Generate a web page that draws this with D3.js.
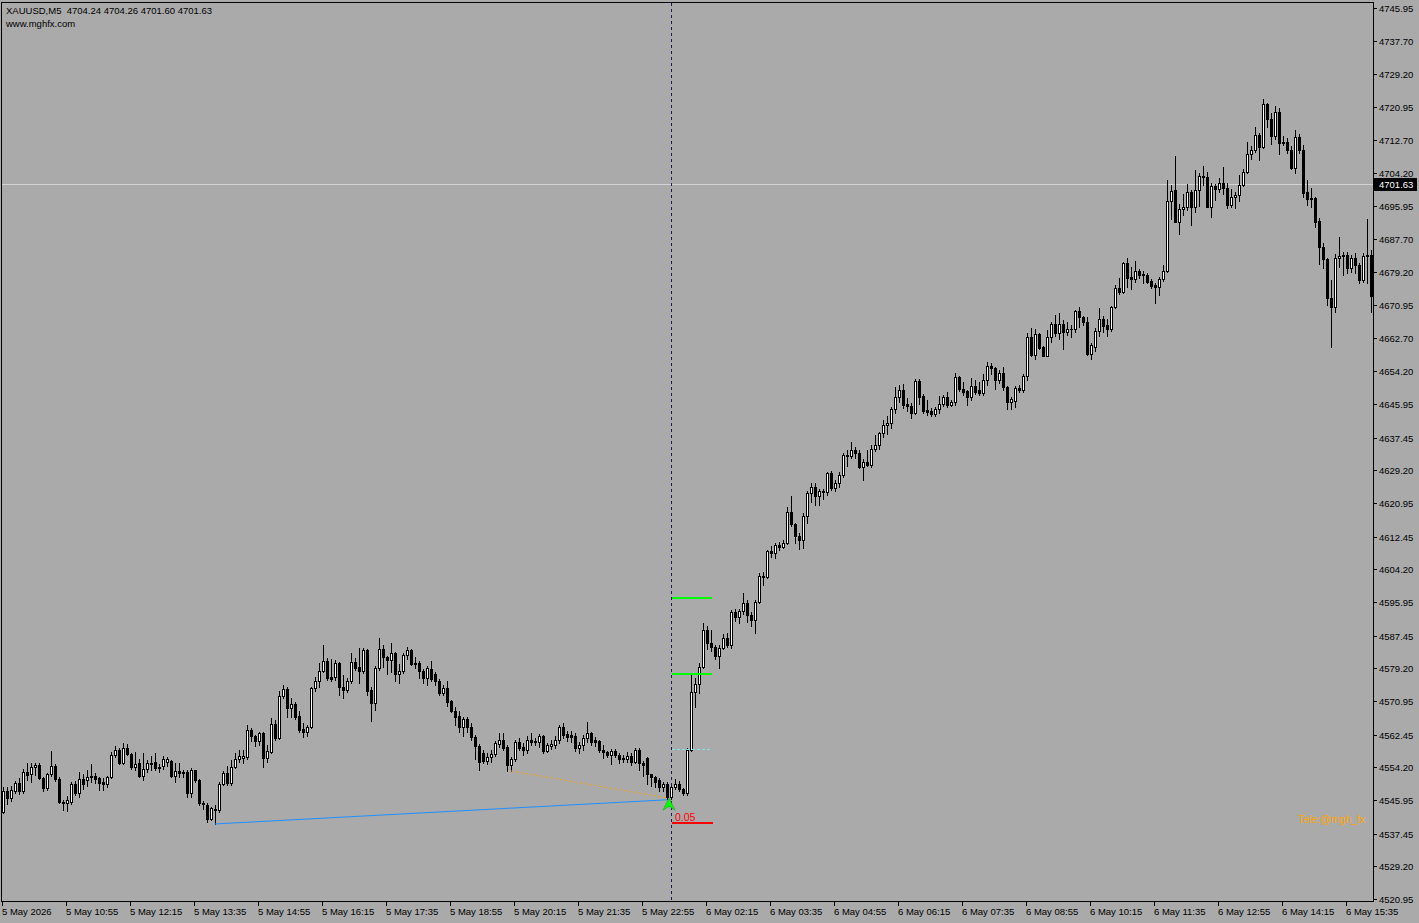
<!DOCTYPE html>
<html lang="en">
  <head>
    <meta charset="UTF-8" />
    <title>XAUUSD,M5</title>
    <script src="https://d3js.org/d3.v7.min.js"></script>
    <style>
      body {
        margin: 0;
        background: #aaaaaa;
        overflow: hidden;
      }
      svg text {
        font-family: "Liberation Sans", Arial, sans-serif;
        font-size: 9.5px;
        fill: #000;
      }
      .crisp {
        shape-rendering: crispEdges;
      }
    </style>
  </head>
  <body>
    <div id="chart"></div>

    <script>
      // OHLC of the visible M5 bars, left to right (bar 0 = 5 May 09:35)
      const opens = [
        4542.8, 4548.2, 4546.4, 4548.2, 4550.2, 4548.1, 4553.1, 4552.4, 4554.2, 4554.9,
        4551.4, 4548.9, 4552.4, 4554.5, 4551.2, 4545.5, 4545.2, 4545.5, 4550.0, 4547.8,
        4551.2, 4551.0, 4551.8, 4551.9, 4551.6, 4550.4, 4550.0, 4551.8, 4557.3, 4558.6,
        4555.2, 4559.2, 4557.6, 4554.2, 4555.2, 4552.1, 4553.7, 4555.0, 4555.6, 4554.3,
        4554.5, 4555.6, 4555.8, 4552.1, 4553.3, 4553.1, 4553.1, 4547.8, 4553.4, 4551.0,
        4545.3, 4544.7, 4541.1, 4543.8, 4543.3, 4550.0, 4552.8, 4550.2, 4554.2, 4556.2,
        4556.5, 4556.7, 4563.6, 4562.1, 4560.9, 4562.8, 4556.6, 4558.1, 4565.1, 4561.6,
        4572.1, 4573.9, 4569.3, 4570.2, 4567.2, 4563.9, 4563.0, 4564.5, 4574.2, 4576.1,
        4578.6, 4581.0, 4577.0, 4576.9, 4580.5, 4574.4, 4573.7, 4576.0, 4580.7, 4579.5,
        4578.6, 4583.8, 4573.7, 4570.4, 4579.3, 4584.0, 4582.0, 4581.2, 4583.0, 4577.7,
        4578.4, 4582.6, 4583.8, 4580.6, 4580.6, 4578.6, 4576.7, 4579.0, 4577.8, 4576.1,
        4572.9, 4574.2, 4570.9, 4568.5, 4567.2, 4564.3, 4566.3, 4564.5, 4561.8, 4559.6,
        4557.8, 4555.9, 4556.8, 4557.6, 4560.1, 4561.2, 4559.4, 4554.7, 4556.2, 4560.7,
        4559.4, 4558.6, 4561.2, 4560.8, 4560.5, 4562.1, 4558.4, 4559.6, 4559.8, 4561.1,
        4564.3, 4562.6, 4562.4, 4562.1, 4559.0, 4559.8, 4561.5, 4562.8, 4561.0, 4560.9,
        4558.6, 4558.1, 4557.2, 4558.4, 4557.4, 4556.6, 4556.4, 4557.0, 4555.6, 4558.7,
        4555.2, 4556.5, 4552.5, 4551.7, 4551.0, 4549.2, 4550.0, 4546.8, 4549.2, 4550.0,
        4548.7, 4547.6, 4558.6, 4573.3, 4575.2, 4579.6, 4588.8, 4585.7, 4584.5, 4582.2,
        4584.3, 4586.8, 4585.1, 4593.5, 4592.1, 4593.8, 4595.6, 4592.7, 4591.4, 4596.0,
        4602.5, 4602.2, 4608.8, 4608.2, 4610.3, 4609.9, 4610.8, 4618.8, 4615.6, 4612.6,
        4611.6, 4617.7, 4623.6, 4624.9, 4622.6, 4624.0, 4623.7, 4628.4, 4624.7, 4625.9,
        4628.0, 4633.1, 4632.8, 4634.3, 4633.5, 4630.0, 4631.4, 4630.6, 4634.7, 4635.6,
        4638.7, 4640.6, 4641.2, 4644.6, 4647.8, 4649.5, 4645.9, 4645.5, 4643.8, 4651.8,
        4648.0, 4644.4, 4644.2, 4643.4, 4644.6, 4646.0, 4647.6, 4645.7, 4646.5, 4652.7,
        4649.8, 4649.3, 4647.8, 4650.5, 4649.4, 4648.8, 4652.0, 4655.6, 4655.0, 4651.9,
        4653.9, 4650.3, 4646.5, 4646.8, 4649.9, 4649.4, 4653.0, 4662.8, 4658.3, 4663.6,
        4660.3, 4658.1, 4662.8, 4666.2, 4664.0, 4666.2, 4664.2, 4665.0, 4664.8, 4669.4,
        4667.8, 4666.7, 4658.5, 4660.4, 4664.5, 4667.3, 4665.9, 4664.8, 4670.4, 4675.2,
        4674.3, 4681.5, 4677.9, 4677.5, 4679.5, 4678.8, 4678.4, 4676.9, 4676.0, 4675.6,
        4677.4, 4679.6, 4697.3, 4700.1, 4692.0, 4695.1, 4695.6, 4699.6, 4695.6, 4700.1,
        4703.6, 4703.2, 4695.8, 4701.1, 4700.2, 4701.7, 4700.6, 4696.2, 4698.3, 4698.7,
        4701.2, 4704.6, 4709.2, 4710.0, 4714.0, 4710.8, 4721.7, 4717.8, 4713.6, 4719.8,
        4712.1, 4712.1, 4710.1, 4705.5, 4713.5, 4710.0, 4699.4, 4698.0, 4697.9, 4692.2,
        4685.7, 4682.5, 4672.6, 4670.5, 4682.7, 4683.2, 4683.6, 4680.2, 4682.7, 4681.0,
        4677.3, 4683.6, 4683.5,
      ];
      const highs = [
        4549.3, 4549.3, 4549.5, 4550.8, 4551.4, 4553.8, 4555.2, 4555.2, 4555.3, 4555.2,
        4551.8, 4552.7, 4558.2, 4555.0, 4551.8, 4546.0, 4547.0, 4550.4, 4550.8, 4553.0,
        4552.4, 4553.4, 4555.0, 4552.8, 4551.8, 4551.4, 4552.0, 4558.0, 4559.6, 4559.0,
        4560.4, 4560.2, 4557.8, 4558.0, 4556.2, 4557.8, 4556.0, 4557.0, 4557.8, 4555.0,
        4557.0, 4556.8, 4556.0, 4555.4, 4555.4, 4553.6, 4553.6, 4554.0, 4553.6, 4551.2,
        4545.7, 4545.2, 4544.2, 4544.6, 4550.4, 4553.2, 4554.6, 4556.0, 4557.8, 4558.6,
        4558.6, 4564.9, 4564.1, 4562.4, 4563.2, 4563.2, 4559.8, 4566.6, 4566.2, 4573.5,
        4575.0, 4574.6, 4571.6, 4570.8, 4568.3, 4565.3, 4565.0, 4574.6, 4577.1, 4580.5,
        4585.1, 4581.7, 4581.5, 4581.3, 4580.9, 4577.5, 4576.7, 4583.0, 4581.7, 4584.3,
        4584.3, 4584.0, 4574.4, 4579.8, 4586.8, 4585.1, 4582.4, 4585.5, 4583.4, 4580.2,
        4583.0, 4584.5, 4584.2, 4582.0, 4581.0, 4579.0, 4579.8, 4581.0, 4578.2, 4576.5,
        4575.0, 4575.9, 4571.2, 4569.5, 4568.3, 4567.0, 4566.8, 4565.3, 4562.4, 4560.0,
        4558.6, 4557.7, 4558.6, 4560.9, 4562.8, 4562.8, 4559.8, 4556.9, 4561.1, 4561.6,
        4560.3, 4562.0, 4562.8, 4561.6, 4562.6, 4562.4, 4560.3, 4561.0, 4562.2, 4565.0,
        4565.3, 4563.5, 4563.4, 4562.8, 4560.7, 4562.3, 4565.7, 4563.0, 4561.8, 4561.2,
        4559.8, 4558.4, 4558.9, 4558.8, 4557.7, 4557.3, 4558.0, 4557.7, 4559.0, 4559.0,
        4555.8, 4556.9, 4552.6, 4552.0, 4551.5, 4550.6, 4550.4, 4549.5, 4551.3, 4550.8,
        4549.1, 4559.0, 4577.9, 4576.7, 4580.5, 4590.7, 4590.0, 4588.9, 4585.0, 4585.0,
        4587.8, 4588.0, 4593.9, 4594.3, 4594.2, 4598.1, 4596.5, 4593.4, 4596.5, 4603.2,
        4603.4, 4609.1, 4610.2, 4610.8, 4611.2, 4611.6, 4620.0, 4622.6, 4616.0, 4613.3,
        4618.5, 4624.1, 4626.0, 4625.9, 4624.6, 4624.6, 4628.8, 4629.1, 4626.8, 4628.7,
        4633.5, 4634.3, 4636.4, 4635.0, 4634.4, 4632.0, 4634.4, 4635.5, 4638.1, 4639.0,
        4641.9, 4642.8, 4645.2, 4650.3, 4650.8, 4650.9, 4647.4, 4646.1, 4652.3, 4652.2,
        4648.4, 4646.9, 4645.0, 4645.1, 4648.0, 4648.2, 4648.9, 4647.0, 4653.7, 4653.1,
        4651.4, 4649.6, 4652.6, 4652.1, 4651.4, 4653.5, 4656.5, 4656.3, 4655.4, 4654.5,
        4655.4, 4650.6, 4647.6, 4650.6, 4650.7, 4653.6, 4664.0, 4665.2, 4665.0, 4664.0,
        4660.7, 4664.6, 4666.6, 4668.4, 4668.9, 4667.2, 4666.6, 4665.9, 4669.8, 4670.4,
        4668.1, 4667.8, 4661.3, 4665.2, 4670.1, 4668.1, 4667.5, 4670.6, 4676.0, 4677.7,
        4681.9, 4682.7, 4680.5, 4682.0, 4680.0, 4679.6, 4679.0, 4677.4, 4676.4, 4678.0,
        4681.1, 4702.5, 4701.3, 4708.6, 4696.4, 4699.0, 4701.4, 4700.0, 4705.0, 4704.4,
        4706.0, 4704.6, 4701.8, 4701.5, 4703.0, 4705.7, 4701.8, 4700.2, 4699.6, 4703.7,
        4705.3, 4712.0, 4711.0, 4716.0, 4714.5, 4722.9, 4722.0, 4719.4, 4721.1, 4720.6,
        4713.7, 4713.0, 4711.0, 4715.1, 4714.2, 4711.3, 4702.5, 4700.4, 4698.3, 4693.0,
        4686.5, 4682.8, 4677.2, 4683.9, 4688.2, 4684.4, 4684.4, 4683.6, 4684.0, 4681.5,
        4684.0, 4692.7, 4684.8,
      ];
      const lows = [
        4542.6, 4545.0, 4545.6, 4547.6, 4547.5, 4547.6, 4551.0, 4550.6, 4552.2, 4551.2,
        4548.3, 4548.5, 4552.0, 4550.8, 4545.2, 4543.4, 4543.2, 4545.0, 4547.2, 4546.8,
        4548.8, 4549.6, 4550.6, 4550.2, 4548.6, 4548.4, 4549.2, 4551.6, 4556.8, 4555.0,
        4555.0, 4557.3, 4553.9, 4553.5, 4551.8, 4550.9, 4553.0, 4553.4, 4553.5, 4553.1,
        4553.8, 4554.6, 4551.8, 4550.6, 4551.8, 4551.8, 4546.8, 4546.6, 4550.6, 4544.8,
        4543.8, 4540.4, 4540.8, 4539.9, 4543.0, 4549.8, 4549.8, 4549.8, 4554.0, 4555.6,
        4555.2, 4556.3, 4560.8, 4559.5, 4559.8, 4554.3, 4555.6, 4557.9, 4561.0, 4561.3,
        4571.6, 4566.8, 4566.9, 4566.5, 4563.1, 4561.9, 4562.2, 4564.2, 4573.5, 4574.6,
        4578.2, 4576.3, 4576.0, 4576.2, 4572.5, 4571.6, 4573.3, 4575.6, 4578.8, 4575.6,
        4577.9, 4572.4, 4565.8, 4568.7, 4578.8, 4579.6, 4577.8, 4578.2, 4575.9, 4575.4,
        4578.0, 4581.5, 4580.0, 4579.4, 4576.8, 4575.5, 4575.1, 4576.0, 4574.9, 4572.5,
        4572.4, 4569.8, 4568.1, 4565.0, 4563.0, 4562.2, 4563.2, 4561.2, 4556.3, 4553.5,
        4555.2, 4555.0, 4555.6, 4557.0, 4559.4, 4558.6, 4553.2, 4553.3, 4555.9, 4558.6,
        4557.3, 4557.7, 4559.8, 4559.9, 4559.4, 4557.7, 4558.0, 4558.9, 4559.2, 4560.3,
        4561.5, 4560.9, 4560.7, 4558.3, 4557.9, 4558.6, 4560.5, 4559.8, 4559.6, 4558.1,
        4556.6, 4556.7, 4555.0, 4556.9, 4555.2, 4555.6, 4555.6, 4554.8, 4555.2, 4553.4,
        4552.0, 4550.0, 4549.4, 4549.3, 4548.1, 4548.2, 4546.1, 4546.3, 4548.8, 4548.3,
        4547.2, 4547.3, 4558.4, 4569.5, 4572.9, 4579.2, 4584.0, 4583.5, 4581.5, 4579.2,
        4584.0, 4584.7, 4584.3, 4591.2, 4590.6, 4592.8, 4591.0, 4589.8, 4588.0, 4595.7,
        4600.3, 4602.0, 4607.2, 4607.0, 4609.2, 4609.6, 4610.6, 4615.1, 4610.9, 4609.4,
        4609.5, 4615.8, 4621.3, 4620.5, 4620.5, 4622.0, 4623.0, 4624.2, 4624.0, 4625.0,
        4627.6, 4630.3, 4632.3, 4632.3, 4629.7, 4626.8, 4630.2, 4630.0, 4634.0, 4634.5,
        4637.7, 4638.5, 4640.0, 4643.8, 4646.5, 4645.0, 4644.3, 4642.4, 4643.4, 4646.0,
        4643.6, 4643.2, 4642.8, 4642.9, 4643.6, 4645.4, 4645.1, 4645.4, 4645.7, 4649.3,
        4648.2, 4645.7, 4647.0, 4648.4, 4648.2, 4648.2, 4650.8, 4653.4, 4649.7, 4651.3,
        4649.6, 4644.7, 4644.7, 4645.1, 4649.0, 4648.9, 4652.1, 4658.0, 4657.2, 4659.9,
        4658.0, 4658.0, 4661.6, 4663.1, 4662.3, 4659.8, 4663.5, 4662.9, 4664.2, 4665.5,
        4665.9, 4658.4, 4657.4, 4659.4, 4663.1, 4664.1, 4663.1, 4664.5, 4670.1, 4673.8,
        4674.1, 4675.6, 4675.0, 4676.8, 4677.7, 4676.4, 4676.4, 4675.2, 4671.4, 4673.4,
        4677.0, 4679.3, 4692.6, 4691.8, 4689.0, 4693.6, 4694.9, 4691.2, 4694.4, 4696.0,
        4701.3, 4695.6, 4693.2, 4697.5, 4699.6, 4698.9, 4695.4, 4695.8, 4695.4, 4697.3,
        4701.0, 4704.4, 4707.9, 4709.6, 4707.6, 4710.5, 4716.0, 4711.5, 4712.9, 4709.2,
        4711.3, 4709.4, 4705.2, 4704.2, 4709.4, 4698.3, 4696.2, 4695.8, 4690.7, 4681.3,
        4680.2, 4670.9, 4660.4, 4669.3, 4680.6, 4678.5, 4679.0, 4679.4, 4679.0, 4676.4,
        4676.8, 4676.4, 4669.3,
      ];
      const closes = [
        4548.1, 4546.4, 4548.5, 4550.2, 4548.1, 4552.9, 4552.3, 4554.2, 4554.9, 4551.4,
        4548.9, 4552.4, 4554.5, 4551.2, 4545.5, 4545.2, 4545.9, 4550.0, 4547.8, 4551.2,
        4550.0, 4551.8, 4552.0, 4551.2, 4550.2, 4550.0, 4551.8, 4557.3, 4558.6, 4555.2,
        4559.2, 4557.6, 4554.4, 4555.0, 4552.1, 4553.7, 4555.2, 4555.4, 4554.0, 4554.0,
        4556.2, 4556.3, 4552.1, 4553.3, 4552.7, 4552.7, 4547.8, 4553.4, 4551.0, 4545.1,
        4544.9, 4541.1, 4543.9, 4543.4, 4550.0, 4552.8, 4550.2, 4554.2, 4556.2, 4557.0,
        4557.1, 4563.6, 4562.1, 4560.9, 4562.8, 4556.6, 4558.3, 4565.1, 4561.5, 4572.2,
        4573.9, 4569.3, 4570.2, 4567.0, 4563.6, 4563.0, 4564.5, 4574.2, 4576.1, 4578.6,
        4581.0, 4576.7, 4576.5, 4580.5, 4574.4, 4573.7, 4576.0, 4580.7, 4579.4, 4578.6,
        4583.8, 4573.5, 4570.4, 4579.3, 4584.0, 4582.0, 4581.2, 4583.0, 4577.7, 4578.6,
        4582.6, 4583.8, 4580.2, 4580.2, 4578.4, 4576.7, 4579.4, 4576.4, 4575.9, 4572.9,
        4574.2, 4570.8, 4568.5, 4567.0, 4564.3, 4566.3, 4564.3, 4561.8, 4559.6, 4555.6,
        4555.9, 4556.9, 4557.6, 4560.3, 4561.2, 4559.2, 4554.7, 4556.2, 4560.7, 4559.2,
        4558.6, 4561.2, 4560.6, 4560.5, 4562.1, 4558.4, 4559.8, 4560.0, 4561.1, 4564.3,
        4562.4, 4561.9, 4561.9, 4559.0, 4559.8, 4561.5, 4562.8, 4560.7, 4560.7, 4558.6,
        4558.0, 4557.2, 4558.4, 4557.4, 4556.2, 4556.4, 4557.0, 4555.6, 4558.7, 4555.2,
        4554.8, 4552.5, 4551.7, 4550.6, 4549.2, 4550.0, 4546.8, 4549.2, 4550.0, 4548.7,
        4547.6, 4558.6, 4573.3, 4575.2, 4579.6, 4588.8, 4585.7, 4584.5, 4582.2, 4584.3,
        4586.8, 4585.1, 4593.5, 4592.1, 4593.8, 4595.6, 4592.7, 4591.4, 4596.0, 4602.5,
        4602.2, 4608.8, 4608.2, 4610.3, 4609.9, 4610.8, 4618.8, 4615.6, 4612.5, 4611.6,
        4617.7, 4623.6, 4624.9, 4622.6, 4624.0, 4623.7, 4628.4, 4624.7, 4625.9, 4628.0,
        4633.1, 4632.8, 4634.3, 4633.5, 4630.0, 4631.4, 4630.6, 4634.7, 4635.6, 4638.7,
        4640.6, 4641.2, 4644.6, 4647.8, 4649.5, 4645.7, 4645.5, 4643.8, 4651.8, 4647.8,
        4644.3, 4644.0, 4643.4, 4644.6, 4646.0, 4647.6, 4645.7, 4646.5, 4652.7, 4649.7,
        4649.1, 4647.8, 4650.5, 4649.1, 4648.8, 4652.0, 4655.6, 4655.0, 4651.9, 4653.9,
        4650.3, 4646.5, 4647.1, 4649.9, 4649.4, 4653.0, 4662.8, 4658.3, 4663.6, 4660.2,
        4658.1, 4662.8, 4666.2, 4664.0, 4666.2, 4664.2, 4664.8, 4664.8, 4669.4, 4667.8,
        4666.7, 4658.5, 4660.8, 4664.5, 4667.3, 4665.7, 4664.8, 4670.4, 4675.2, 4674.3,
        4681.5, 4677.7, 4677.5, 4679.5, 4678.6, 4678.4, 4676.8, 4675.8, 4675.6, 4677.4,
        4679.6, 4697.3, 4699.8, 4692.0, 4695.1, 4695.6, 4699.6, 4695.6, 4700.1, 4703.4,
        4703.2, 4695.8, 4701.1, 4700.2, 4701.7, 4700.6, 4696.2, 4698.3, 4698.7, 4701.2,
        4704.6, 4709.2, 4710.1, 4714.0, 4710.8, 4721.7, 4717.8, 4713.6, 4719.8, 4711.8,
        4711.8, 4710.1, 4705.5, 4713.5, 4710.0, 4699.3, 4697.6, 4697.6, 4692.0, 4685.5,
        4682.5, 4672.6, 4670.5, 4682.7, 4683.3, 4683.6, 4680.2, 4682.7, 4681.0, 4677.3,
        4683.3, 4683.2, 4673.1,
      ];

      // time axis labels, one every 16 bars
      const timeLabels = [
        "5 May 2026", "5 May 10:55", "5 May 12:15", "5 May 13:35", "5 May 14:55", "5 May 16:15",
        "5 May 17:35", "5 May 18:55", "5 May 20:15", "5 May 21:35", "5 May 22:55", "6 May 02:15",
        "6 May 03:35", "6 May 04:55", "6 May 06:15", "6 May 07:35", "6 May 08:55", "6 May 10:15",
        "6 May 11:35", "6 May 12:55", "6 May 14:15", "6 May 15:35",
      ];
      const priceTicks = [
        4745.95, 4737.7, 4729.2, 4720.95, 4712.7, 4704.2, 4695.95, 4687.7, 4679.2, 4670.95,
        4662.7, 4654.2, 4645.95, 4637.45, 4629.2, 4620.95, 4612.45, 4604.2, 4595.95, 4587.45,
        4579.2, 4570.95, 4562.45, 4554.2, 4545.95, 4537.45, 4529.2, 4520.95,
      ];

      const header = "XAUUSD,M5  4704.24 4704.26 4701.60 4701.63";
      const bid = 4701.63;

      // signal objects drawn by the indicator
      const signalBar = 167;
      const levelEndBar = 177;
      const takeProfits = [4597.0, 4577.8];
      const entryLevel = 4558.8;
      const stopLevel = 4540.1;
      const signalText = "0.05";
      const arrowBar = 166;
      const arrowPrice = 4546.4;
      const blueLine = [
        { bar: 53, price: 4539.9 },
        { bar: 166, price: 4546.0 },
      ];
      const orangeLine = [
        { bar: 127, price: 4553.3 },
        { bar: 166, price: 4546.5 },
      ];

      const width = 1419;
      const height = 923;
      const plotRight = 1373;
      const plotBottom = 901;

      const svg = d3.select("#chart").append("svg").attr("width", width).attr("height", height);

      const x = d3.scaleLinear().domain([0, 342]).range([3, 1371]);
      const y = d3.scaleLinear().domain([4520.95, 4745.95]).range([899, 8]);
      const px = (v) => Math.round(x(v));
      const py = (v) => Math.round(y(v));

      const bars = d3.range(opens.length).map((i) => ({
        i,
        o: opens[i],
        h: highs[i],
        l: lows[i],
        c: closes[i],
      }));

      // current bid line (behind candles)
      svg
        .append("line")
        .attr("class", "crisp")
        .attr("x1", 2)
        .attr("x2", plotRight)
        .attr("y1", py(bid) + 0.5)
        .attr("y2", py(bid) + 0.5)
        .attr("stroke", "#d3d3d3");

      // period separator style vertical line
      svg
        .append("line")
        .attr("class", "crisp")
        .attr("x1", px(signalBar) + 0.5)
        .attr("x2", px(signalBar) + 0.5)
        .attr("y1", 3)
        .attr("y2", plotBottom)
        .attr("stroke", "#1a1a5a")
        .attr("stroke-dasharray", "3,3");

      // candles
      const candle = svg.append("g").attr("class", "crisp");

      candle
        .selectAll(".wick")
        .data(bars)
        .enter()
        .append("rect")
        .attr("x", (d) => px(d.i))
        .attr("y", (d) => py(d.h))
        .attr("width", 1)
        .attr("height", (d) => Math.max(1, py(d.l) - py(d.h) + 1))
        .attr("fill", "#000");

      candle
        .selectAll(".body")
        .data(bars)
        .enter()
        .append("rect")
        .attr("x", (d) => px(d.i) - 1)
        .attr("y", (d) => py(Math.max(d.o, d.c)))
        .attr("width", 3)
        .attr("height", (d) => Math.max(1, Math.abs(py(d.o) - py(d.c)) + 1))
        .attr("fill", "#000");

      candle
        .selectAll(".inner")
        .data(bars.filter((d) => d.c > d.o && py(d.o) - py(d.c) >= 2))
        .enter()
        .append("rect")
        .attr("x", (d) => px(d.i))
        .attr("y", (d) => py(d.c) + 1)
        .attr("width", 1)
        .attr("height", (d) => py(d.o) - py(d.c) - 1)
        .attr("fill", "#fff");

      // trend lines
      const line = d3
        .line()
        .x((d) => x(d.bar))
        .y((d) => y(d.price));

      svg.append("path").datum(blueLine).attr("d", line).attr("fill", "none").attr("stroke", "#1e90ff");
      svg
        .append("path")
        .datum(orangeLine)
        .attr("d", line)
        .attr("fill", "none")
        .attr("stroke", "#ffa500")
        .attr("stroke-dasharray", "2,3");

      // take profit / entry / stop levels
      const levels = svg.append("g").attr("class", "crisp");
      takeProfits.forEach((p) => {
        levels
          .append("rect")
          .attr("x", px(signalBar) + 1)
          .attr("y", py(p) - 1)
          .attr("width", px(levelEndBar) - px(signalBar))
          .attr("height", 2)
          .attr("fill", "#00ff00");
      });
      levels
        .append("line")
        .attr("x1", px(signalBar) + 1)
        .attr("x2", px(levelEndBar) + 1)
        .attr("y1", py(entryLevel) + 0.5)
        .attr("y2", py(entryLevel) + 0.5)
        .attr("stroke", "#7fe5e5")
        .attr("stroke-dasharray", "3,2");
      levels
        .append("rect")
        .attr("x", px(signalBar) + 1)
        .attr("y", py(stopLevel) - 1)
        .attr("width", px(levelEndBar) - px(signalBar) + 1)
        .attr("height", 2)
        .attr("fill", "#ff0000");

      svg
        .append("text")
        .attr("x", px(signalBar) + 4)
        .attr("y", py(stopLevel) - 2)
        .style("fill", "#ff0000")
        .style("font-size", "10.5px")
        .text(signalText);

      // buy arrow
      const ax = x(arrowBar) + 2;
      const ay = y(arrowPrice);
      svg
        .append("path")
        .attr("d", `M${ax},${ay} L${ax + 6},${ay + 12} L${ax},${ay + 8} L${ax - 6},${ay + 12} Z`)
        .attr("fill", "#00ff00")
        .attr("stroke", "#22b022")
        .attr("stroke-width", 0.8);

      // watermark
      svg
        .append("text")
        .attr("x", 1298)
        .attr("y", 823)
        .style("fill", "#ffa500")
        .style("font-size", "10.5px")
        .text("Tele:@mgh_fx");

      // frame
      svg
        .append("rect")
        .attr("class", "crisp")
        .attr("x", 1.5)
        .attr("y", 2.5)
        .attr("width", plotRight - 1.5)
        .attr("height", plotBottom - 2.5)
        .attr("fill", "none")
        .attr("stroke", "#000");

      // price axis
      const yAxis = svg.append("g").attr("class", "crisp");
      priceTicks.forEach((t) => {
        const ty = py(t);
        yAxis
          .append("line")
          .attr("x1", plotRight + 1)
          .attr("x2", plotRight + 4)
          .attr("y1", ty + 0.5)
          .attr("y2", ty + 0.5)
          .attr("stroke", "#000");
        yAxis
          .append("text")
          .attr("x", plotRight + 6)
          .attr("y", ty + 4)
          .text(t.toFixed(2));
      });

      // bid label
      yAxis
        .append("rect")
        .attr("x", plotRight + 1)
        .attr("y", py(bid) - 6)
        .attr("width", 43)
        .attr("height", 13)
        .attr("fill", "#000");
      yAxis
        .append("text")
        .attr("x", plotRight + 6)
        .attr("y", py(bid) + 4)
        .style("fill", "#fff")
        .text(bid.toFixed(2));

      // time axis
      const xAxis = svg.append("g").attr("class", "crisp");
      timeLabels.forEach((label, k) => {
        const tx = px(k * 16);
        xAxis
          .append("line")
          .attr("x1", tx - 0.5)
          .attr("x2", tx - 0.5)
          .attr("y1", plotBottom)
          .attr("y2", plotBottom + 5)
          .attr("stroke", "#000");
        xAxis
          .append("text")
          .attr("x", tx - 1)
          .attr("y", plotBottom + 14)
          .text(label);
      });

      // header
      svg.append("text").attr("x", 6).attr("y", 14).style("white-space", "pre").text(header);
      svg.append("text").attr("x", 6).attr("y", 27).text("www.mghfx.com");
    </script>
  </body>
</html>
